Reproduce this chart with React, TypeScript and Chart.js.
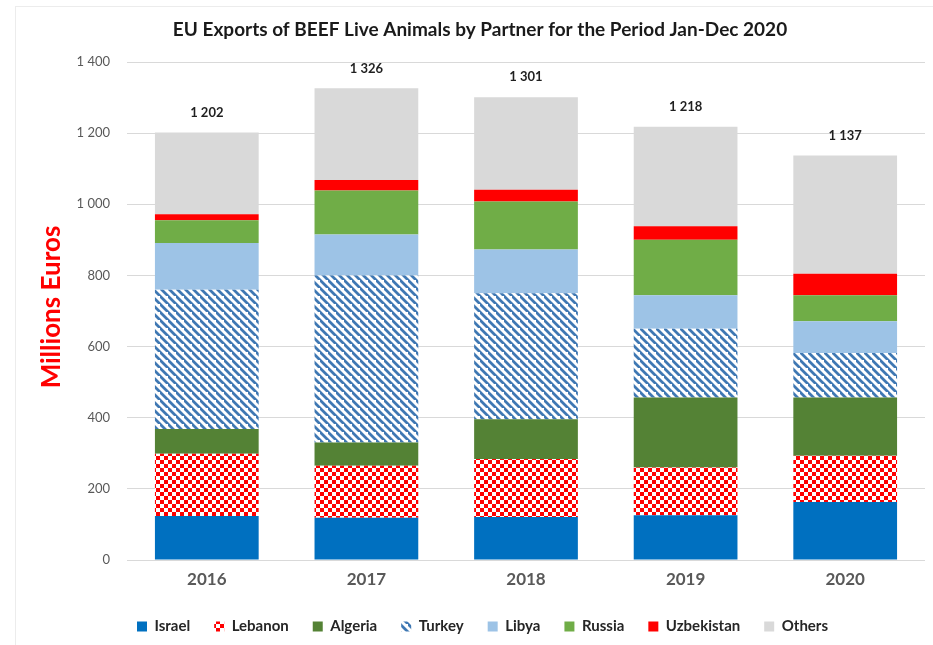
import React, { useEffect, useRef } from "react";
import { Chart, registerables } from "chart.js";

Chart.register(...registerables);

const years = ["2016", "2017", "2018", "2019", "2020"];
const israel = [124, 119, 121, 126, 163];
const lebanon = [175, 146, 163, 134, 130];
const algeria = [69, 65, 112, 197, 164];
const turkey = [392, 470, 354, 193, 125];
const libya = [131, 115, 123, 94, 89];
const russia = [64, 124, 135, 156, 73];
const uzbekistan = [17, 29, 33, 38, 61];
const others = [230, 258, 260, 280, 332];
const totals = [1202, 1326, 1301, 1218, 1137];

const titleText = "EU Exports of BEEF Live Animals by Partner for the Period Jan-Dec 2020";
const yTitle = "Millions Euros";
const FONT = "Lato, 'Liberation Sans', sans-serif";

const fmt = (v: number) => String(v).replace(/\B(?=(\d{3})+(?!\d))/g, " ");

function makeChecker(): CanvasPattern | string {
  const s = 8;
  const c = document.createElement("canvas");
  c.width = s;
  c.height = s;
  const g = c.getContext("2d");
  if (!g) return "#ff0000";
  g.fillStyle = "#ff0000";
  g.fillRect(0, 0, s, s);
  g.fillStyle = "#ffffff";
  g.fillRect(0, 0, 4, 4);
  g.fillRect(4, 4, 4, 4);
  return g.createPattern(c, "repeat") || "#ff0000";
}

function makeStripes(): CanvasPattern | string {
  const s = 8;
  const c = document.createElement("canvas");
  c.width = s;
  c.height = s;
  const g = c.getContext("2d");
  if (!g) return "#3a75b0";
  g.fillStyle = "#ffffff";
  g.fillRect(0, 0, s, s);
  g.strokeStyle = "#3f78b3";
  g.lineWidth = 2.8;
  g.beginPath();
  g.moveTo(-2, -2);
  g.lineTo(s + 2, s + 2);
  g.moveTo(-2 - s, -2);
  g.lineTo(2, s + 2);
  g.moveTo(s - 2, -2 - s);
  g.lineTo(s + 2 + s, s + 2);
  g.stroke();
  return g.createPattern(c, "repeat") || "#3a75b0";
}

export default function App() {
  const ref = useRef<HTMLCanvasElement | null>(null);

  useEffect(() => {
    if (!ref.current) return;
    const checker = makeChecker();
    const stripes = makeStripes();

    const decor = {
      id: "decor",
      afterDatasetsDraw(chart: any) {
        const ctx = chart.ctx;
        const xs = chart.scales.x;
        const ys = chart.scales.y;
        ctx.save();
        ctx.fillStyle = "#1f1f1f";
        ctx.font = `bold 13px ${FONT}`;
        ctx.textAlign = "center";
        ctx.textBaseline = "middle";
        totals.forEach((t, i) => {
          ctx.fillText(fmt(t), xs.getPixelForValue(i), ys.getPixelForValue(t) - 20);
        });
        ctx.restore();
      },
      afterDraw(chart: any) {
        const ctx = chart.ctx;
        ctx.save();
        ctx.fillStyle = "#1a1a1a";
        ctx.font = `bold 19px ${FONT}`;
        ctx.textAlign = "center";
        ctx.textBaseline = "middle";
        ctx.fillText(titleText, 480, 30);
        ctx.translate(52, 307);
        ctx.rotate(-Math.PI / 2);
        ctx.fillStyle = "#ff0000";
        ctx.font = `bold 26px ${FONT}`;
        ctx.fillText(yTitle, 0, 0);
        ctx.restore();
      },
    };

    const chart = new Chart(ref.current, {
      type: "bar",
      data: {
        labels: years,
        datasets: [
          { label: "Israel", data: israel, backgroundColor: "#0070c0" },
          { label: "Lebanon", data: lebanon, backgroundColor: checker as any },
          { label: "Algeria", data: algeria, backgroundColor: "#548235" },
          { label: "Turkey", data: turkey, backgroundColor: stripes as any },
          { label: "Libya", data: libya, backgroundColor: "#9dc3e6" },
          { label: "Russia", data: russia, backgroundColor: "#70ad47" },
          { label: "Uzbekistan", data: uzbekistan, backgroundColor: "#ff0000" },
          { label: "Others", data: others, backgroundColor: "#d9d9d9" },
        ],
      },
      options: {
        animation: false,
        responsive: false,
        maintainAspectRatio: false,
        layout: { padding: { top: 62, right: 8, bottom: 1, left: 40 } },
        datasets: { bar: { categoryPercentage: 0.65, barPercentage: 1 } } as any,
        scales: {
          x: {
            stacked: true,
            grid: { display: false },
            border: { display: false },
            ticks: { color: "#595959", font: { family: FONT, size: 17, weight: "bold" }, padding: 1 },
            afterFit: (s: any) => { s.height = 35; },
          },
          y: {
            stacked: true,
            min: 0,
            max: 1400,
            grid: { color: "#d9d9d9", drawTicks: false },
            border: { display: false },
            ticks: {
              stepSize: 200,
              color: "#595959",
              font: { family: FONT, size: 13 },
              padding: 17,
              callback: (v: any) => fmt(Number(v)),
            },
            afterFit: (s: any) => { s.width = 87; },
          },
        },
        plugins: {
          legend: {
            position: "bottom",
            labels: {
              boxWidth: 10,
              boxHeight: 10,
              padding: 24,
              color: "#262626",
              font: { family: FONT, size: 15, weight: "bold" },
            },
          },
          tooltip: { enabled: false },
        },
      },
      plugins: [decor],
    });
    return () => chart.destroy();
  }, []);

  return (
    <div style={{ position: "fixed", left: 0, top: 0, width: 933, height: 645, background: "#fff" }}>
      <div style={{ position: "absolute", left: 15, top: 6, width: 918, height: 639, borderLeft: "1px solid #ececec", borderTop: "1px solid #ececec" }} />
      <canvas ref={ref} width={933} height={645} style={{ position: "absolute", left: 0, top: 0 }} />
    </div>
  );
}
